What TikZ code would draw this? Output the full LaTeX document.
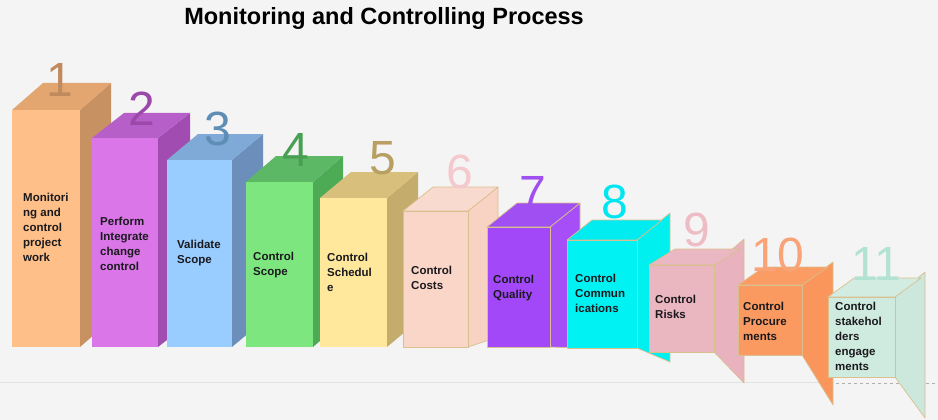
\documentclass[tikz,border=0pt]{standalone}
\usepackage{fontspec}
\setmainfont{Liberation Sans}
\definecolor{backgrey}{RGB}{244, 244, 244}
\definecolor{floorgrey}{RGB}{226, 226, 226}
\definecolor{dashgrey}{RGB}{175, 175, 175}
\definecolor{edgetan}{RGB}{217, 192, 142}
\definecolor{inkblack}{RGB}{26, 26, 30}
% box colours: front, side, top, number
\definecolor{workfront}{RGB}{255, 191, 136}
\definecolor{workside}{RGB}{200, 145, 98}
\definecolor{worktop}{RGB}{228, 166, 112}
\definecolor{worknum}{RGB}{192, 138, 94}
\definecolor{changefront}{RGB}{218, 118, 232}
\definecolor{changeside}{RGB}{160, 76, 176}
\definecolor{changetop}{RGB}{182, 95, 200}
\definecolor{changenum}{RGB}{155, 72, 170}
\definecolor{validatefront}{RGB}{153, 204, 255}
\definecolor{validateside}{RGB}{107, 143, 186}
\definecolor{validatetop}{RGB}{127, 169, 214}
\definecolor{validatenum}{RGB}{94, 141, 181}
\definecolor{scopefront}{RGB}{126, 230, 126}
\definecolor{scopeside}{RGB}{77, 170, 85}
\definecolor{scopetop}{RGB}{93, 184, 102}
\definecolor{scopenum}{RGB}{71, 160, 82}
\definecolor{schedulefront}{RGB}{255, 232, 156}
\definecolor{scheduleside}{RGB}{196, 172, 108}
\definecolor{scheduletop}{RGB}{216, 192, 124}
\definecolor{schedulenum}{RGB}{184, 160, 98}
\definecolor{costsfront}{RGB}{250, 214, 200}
\definecolor{costsside}{RGB}{248, 210, 194}
\definecolor{coststop}{RGB}{249, 218, 206}
\definecolor{costsnum}{RGB}{244, 200, 204}
\definecolor{qualityfront}{RGB}{162, 72, 248}
\definecolor{qualityside}{RGB}{166, 78, 248}
\definecolor{qualitytop}{RGB}{160, 80, 242}
\definecolor{qualitynum}{RGB}{160, 80, 240}
\definecolor{commsfront}{RGB}{0, 242, 242}
\definecolor{commsside}{RGB}{0, 240, 240}
\definecolor{commstop}{RGB}{0, 236, 240}
\definecolor{commsnum}{RGB}{0, 230, 240}
\definecolor{risksfront}{RGB}{234, 182, 192}
\definecolor{risksside}{RGB}{232, 178, 190}
\definecolor{riskstop}{RGB}{234, 184, 194}
\definecolor{risksnum}{RGB}{238, 188, 196}
\definecolor{procurefront}{RGB}{250, 154, 96}
\definecolor{procureside}{RGB}{250, 150, 92}
\definecolor{procuretop}{RGB}{250, 156, 100}
\definecolor{procurenum}{RGB}{249, 164, 120}
\definecolor{stakefront}{RGB}{207, 235, 223}
\definecolor{stakeside}{RGB}{204, 232, 220}
\definecolor{staketop}{RGB}{210, 236, 225}
\definecolor{stakenum}{RGB}{178, 226, 210}
\tikzstyle{boxtext} = [
  anchor=north west,
  inner sep=0pt,
  align=left,
  text=inkblack,
  font=\bfseries\fontsize{11.5}{15}\selectfont,
]
\tikzstyle{boxnum} = [
  inner sep=0pt,
  font=\fontsize{48}{48}\selectfont,
]
\tikzstyle{tanedge} = [draw=edgetan, line width=0.7pt, line join=round]
% #1 style, #2 colour prefix, #3 left, #4 right, #5 top, #6 bottom,
% #7 side back top, #8 side back bottom, #9 depth of the top face
\newcommand{\cuboid}[9][]{%
  \fill[#2side, #1] (#4,#5) -- (#7) -- (#8) -- (#4,#6) -- cycle;
  \fill[#2top, #1] (#3,#5) -- (#4,#5) -- ++(#9) -- ++({#3-#4},0) -- cycle;
  \fill[#2front, #1] (#3,#5) rectangle (#4,#6);
}

\begin{document}
\begin{tikzpicture}[x=1pt, y=-1pt]
  \useasboundingbox (0,0) rectangle (938,420);
  \fill[backgrey] (0,0) rectangle (938,420);

  % Floor
  \draw[floorgrey, line width=1pt] (0,382) -- (830,382);
  \draw[dashgrey, dashed, line width=0.6pt] (830,383) -- (938,383);

  % Title
  \node[font=\bfseries\fontsize{23.5}{28}\selectfont] (title) at (384,18)
    {Monitoring and Controlling Process};

  % Boxes
  \cuboid{work}{12}{80}{110}{347}{111,83}{111,320}{31,-27}
  \cuboid{change}{92}{158}{138}{347}{190,113}{190,322}{32,-25}
  \cuboid{validate}{167}{232}{160}{347}{263,134}{263,321}{31,-26}
  \cuboid{scope}{246}{313}{182}{347}{343,156}{343,321}{30,-26}
  \cuboid{schedule}{320}{387}{198}{347}{418,172}{418,321}{31,-26}
  \cuboid[tanedge]{costs}{403}{468}{211}{347}{498,187}{498,337}{30,-24}
  \cuboid[tanedge]{quality}{487}{550}{227}{347}{580,203}{580,348}{30,-24}
  \cuboid[tanedge]{comms}{567}{637}{240}{348}{670,213}{670,362}{25,-20}
  \cuboid[tanedge]{risks}{649}{714}{265}{352}{744,239}{744,383}{26,-16}
  \cuboid[tanedge]{procure}{738}{802}{285}{355}{833,262}{833,405}{26,-18}
  \cuboid[tanedge]{stake}{828}{895}{297}{377}{925,272}{925,418}{26,-19}

  % Numbers
  \node[boxnum, text=worknum] (n1) at (60,80) {1};
  \node[boxnum, text=changenum] (n2) at (142,109) {2};
  \node[boxnum, text=validatenum] (n3) at (218,129) {3};
  \node[boxnum, text=scopenum] (n4) at (296,150) {4};
  \node[boxnum, text=schedulenum] (n5) at (383,158) {5};
  \node[boxnum, text=costsnum] (n6) at (460,172) {6};
  \node[boxnum, text=qualitynum] (n7) at (533,193) {7};
  \node[boxnum, text=commsnum] (n8) at (615,202) {8};
  \node[boxnum, text=risksnum] (n9) at (697,230) {9};
  \node[boxnum, text=procurenum] (n10) at (778,255) {10};
  \node[boxnum, text=stakenum] (n11) at (876,264) {11};

  % Labels
  \node[boxtext] (t1) at (23,193) {Monitori\\ng and\\control\\project\\work};
  \node[boxtext] (t2) at (100,217) {Perform\\Integrate\\change\\control};
  \node[boxtext] (t3) at (177,240) {Validate\\Scope};
  \node[boxtext] (t4) at (253,252) {Control\\Scope};
  \node[boxtext] (t5) at (327,253) {Control\\Schedul\\e};
  \node[boxtext] (t6) at (411,266) {Control\\Costs};
  \node[boxtext] (t7) at (493,275) {Control\\Quality};
  \node[boxtext] (t8) at (575,274) {Control\\Commun\\ications};
  \node[boxtext] (t9) at (655,295) {Control\\Risks};
  \node[boxtext] (t10) at (743,302) {Control\\Procure\\ments};
  \node[boxtext] (t11) at (835,302) {Control\\stakehol\\ders\\engage\\ments};
\end{tikzpicture}
\end{document}
